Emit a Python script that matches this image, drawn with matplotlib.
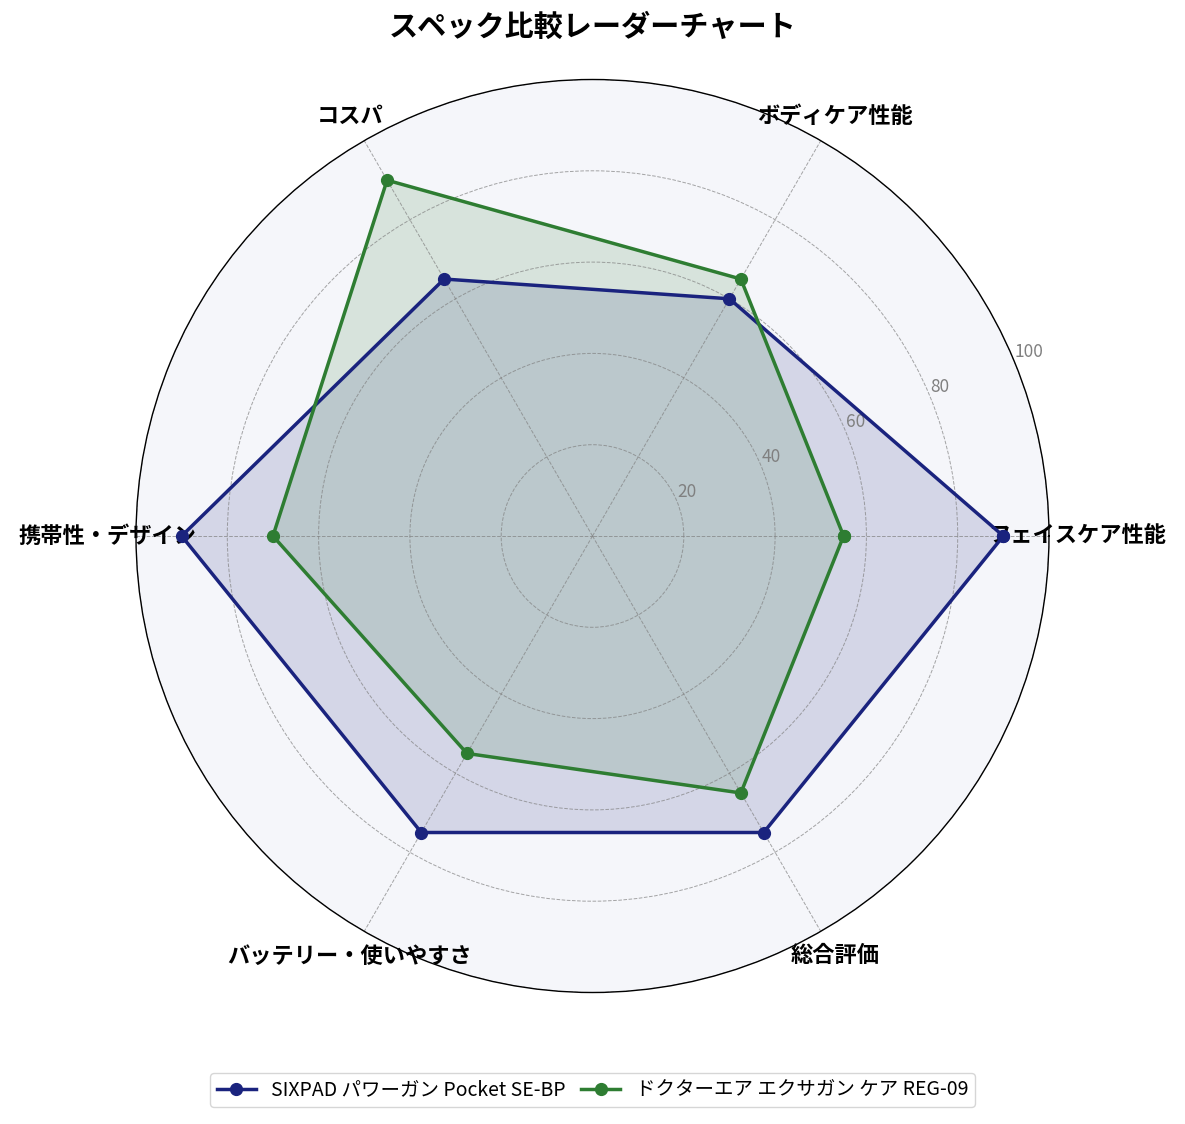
import numpy as np
import matplotlib
matplotlib.use("Agg")
import matplotlib.pyplot as plt

plt.rcParams['font.family'] = ['Noto Sans CJK JP', 'DejaVu Sans']

categories = ['フェイスケア性能', 'ボディケア性能', 'コスパ', '携帯性・デザイン',
              'バッテリー・使いやすさ', '総合評価']
series_names = ['SIXPAD パワーガン Pocket SE-BP', 'ドクターエア エクサガン ケア REG-09']
sixpad = [90, 60, 65, 90, 75, 75]
doctorair = [55, 65, 90, 70, 55, 65]
r_ticks = [20, 40, 60, 80, 100]
colors = ['#1a237e', '#2e7d32']

n = len(categories)
angles = np.linspace(0, 2 * np.pi, n, endpoint=False)
angles_c = np.concatenate([angles, angles[:1]])

fig = plt.figure(figsize=(11.85, 11.24), dpi=100)
ax = fig.add_axes([136 / 1185, 1 - 993 / 1124, 913 / 1185, 914 / 1124], polar=True)
ax.set_facecolor('#f5f6fa')

for vals, name, col in zip([sixpad, doctorair], series_names, colors):
    v = np.concatenate([vals, vals[:1]])
    ax.plot(angles_c, v, color=col, linewidth=2.5, marker='o', markersize=8.5, label=name)
    ax.fill(angles_c, v, color=col, alpha=0.15)

ax.set_ylim(0, 100)
ax.set_yticks(r_ticks)
ax.set_yticklabels([str(t) for t in r_ticks], color='gray', fontsize=12.5)
ax.set_rlabel_position(22.5)
ax.set_xticks(angles)
ax.set_xticklabels(categories, fontsize=16, fontweight='bold')
ax.tick_params(axis='x', pad=10)
ax.grid(True, color='gray', linestyle='--', linewidth=0.7, alpha=0.7)
ax.spines['polar'].set_color('black')
ax.spines['polar'].set_linewidth(1.0)

fig.text(0.5, 1 - 27 / 1124, 'スペック比較レーダーチャート', ha='center', va='center',
         fontsize=21, fontweight='bold')
fig.legend(loc='center', bbox_to_anchor=(0.5, 1 - 1090 / 1124), ncol=2, fontsize=14,
           frameon=True, columnspacing=0.8, handlelength=2.0, borderpad=0.35)

fig.savefig('out.png', dpi=100)
